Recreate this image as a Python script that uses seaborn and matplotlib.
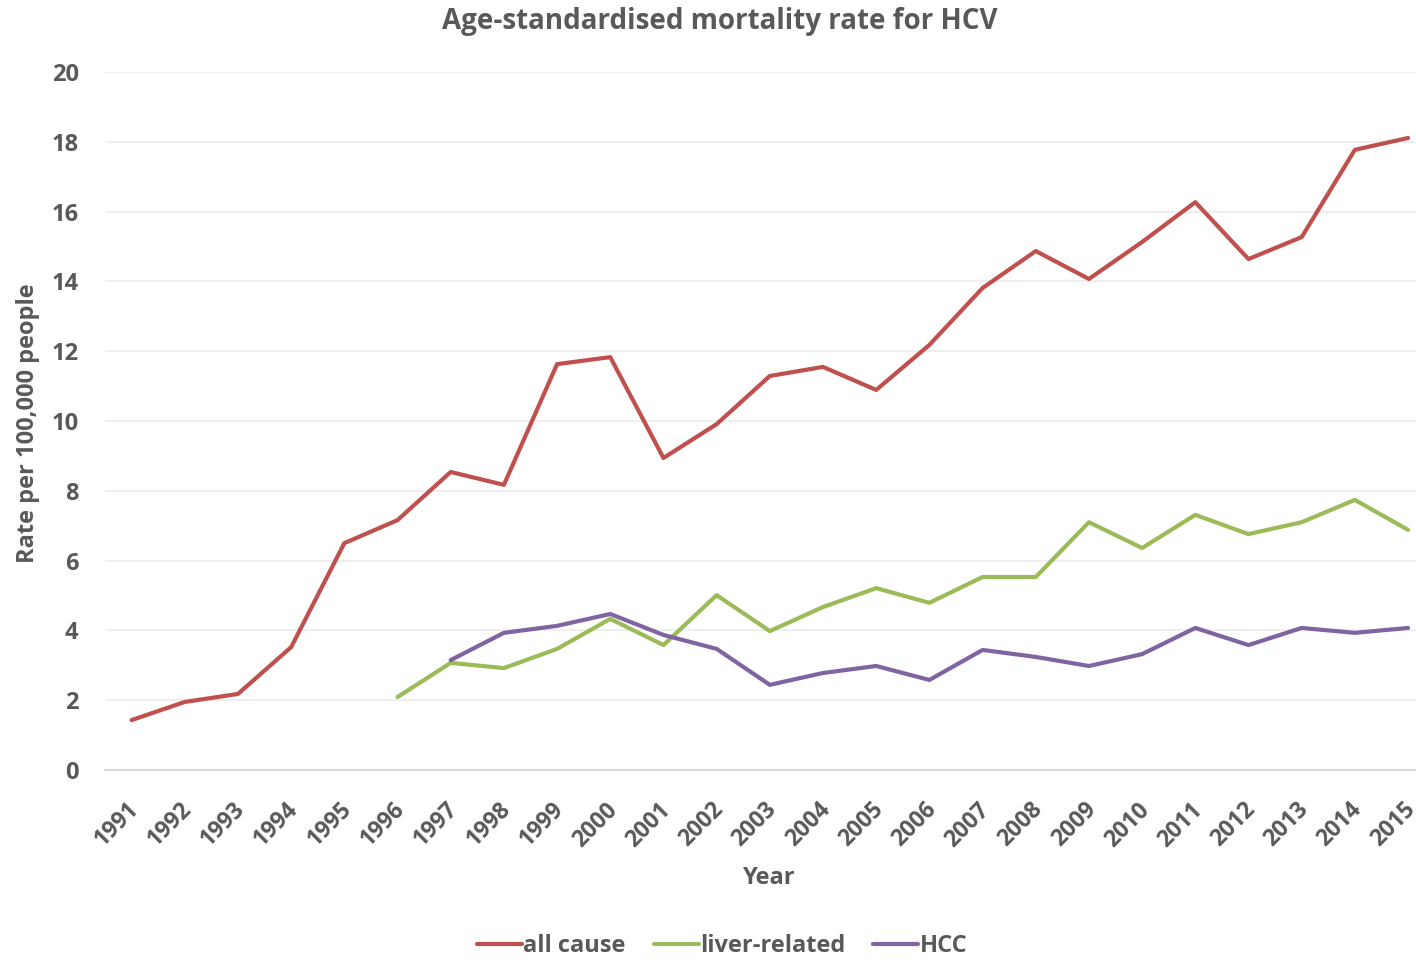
import pandas as pd
import matplotlib
matplotlib.use('Agg')
import matplotlib.pyplot as plt
import matplotlib.transforms as mtransforms
import seaborn as sns
import numpy as np

# Values
years = list(range(1991, 2016))
all_cause = [1.43, 1.95, 2.18, 3.52, 6.5, 7.16, 8.54, 8.17, 11.63, 11.83,
             8.94, 9.91, 11.29, 11.55, 10.89, 12.18, 13.81, 14.87, 14.07, 15.13,
             16.27, 14.64, 15.27, 17.77, 18.11]
liver_related = [np.nan] * 5 + [2.09, 3.07, 2.92, 3.47, 4.33,
                                3.58, 5.01, 3.98, 4.67, 5.21, 4.79, 5.53, 5.53, 7.1, 6.36,
                                7.31, 6.76, 7.1, 7.74, 6.88]
hcc = [np.nan] * 6 + [3.15, 3.93, 4.13, 4.47,
                      3.87, 3.47, 2.44, 2.78, 2.98, 2.58, 3.44, 3.24, 2.98, 3.32,
                      4.07, 3.58, 4.07, 3.93, 4.07]
series_names = ['all cause', 'liver-related', 'HCC']
colors = ['#C0504D', '#9BBB59', '#8064A2']

df = pd.DataFrame({'Year': years, 'all cause': all_cause,
                   'liver-related': liver_related, 'HCC': hcc})
long_df = df.melt(id_vars='Year', var_name='series', value_name='rate').dropna()

sns.set_style('white')
plt.rcParams['font.family'] = ['Open Sans', 'DejaVu Sans']
text_color = '#595959'

fig = plt.figure(figsize=(14.16, 9.6), dpi=100)
ax = fig.add_axes([105 / 1416, 1 - 770 / 960, (1416 - 105) / 1416, (770 - 72) / 960])

sns.lineplot(data=long_df, x='Year', y='rate', hue='series', hue_order=series_names,
             palette=colors, linewidth=3, ax=ax, legend=False)

ax.set_ylim(0, 20)
ax.set_xlim(1990.5, 1990.5 + (1416 - 105.4) / 53.17)
ax.set_yticks(range(0, 21, 2))
ax.set_xticks(years)
ax.set_xticklabels([str(y) for y in years], rotation=45, ha='right',
                   rotation_mode='anchor', fontsize=16.5, fontweight='bold', color=text_color)
ax.set_yticklabels([str(v) for v in range(0, 21, 2)], fontsize=17,
                   fontweight='bold', color=text_color)
ax.tick_params(axis='both', length=0)
ax.tick_params(axis='x', pad=20)
ax.tick_params(axis='y', pad=19)

# small shift so the last year label stays inside the picture
# (done after tick_params, which resets the label transforms)
offset = mtransforms.ScaledTranslation(-5 / 100, 0, fig.dpi_scale_trans)
for lbl in ax.get_xticklabels():
    lbl.set_transform(lbl.get_transform() + offset)

ax.yaxis.grid(True, color='#efefef', linewidth=1.5)
ax.set_axisbelow(True)
for side in ['top', 'right', 'left']:
    ax.spines[side].set_visible(False)
ax.spines['bottom'].set_color('#d9d9d9')
ax.spines['bottom'].set_linewidth(1.5)

ax.set_xlabel('Year', fontsize=17, fontweight='bold', color=text_color)
ax.xaxis.set_label_coords((769 - 105) / 1311, (770 - 866) / 698)
ax.set_ylabel('Rate per 100,000 people', fontsize=17, fontweight='bold', color=text_color)
ax.yaxis.set_label_coords((40 - 105) / 1311, (770 - 423) / 698)
fig.text(720 / 1416, 1 - 21 / 960, 'Age-standardised mortality rate for HCV',
         ha='center', va='center', fontsize=20, fontweight='bold', color=text_color)

handles = [plt.Line2D([], [], color=c, linewidth=3) for c in colors]
leg = fig.legend(handles, series_names, loc='center', bbox_to_anchor=(722 / 1416, 1 - 946 / 960),
                 ncol=3, frameon=False, handlelength=1.9, handletextpad=0.05,
                 columnspacing=1.2, prop={'weight': 'bold', 'size': 17})
for t in leg.get_texts():
    t.set_color(text_color)

fig.savefig('out.png', dpi=100)
